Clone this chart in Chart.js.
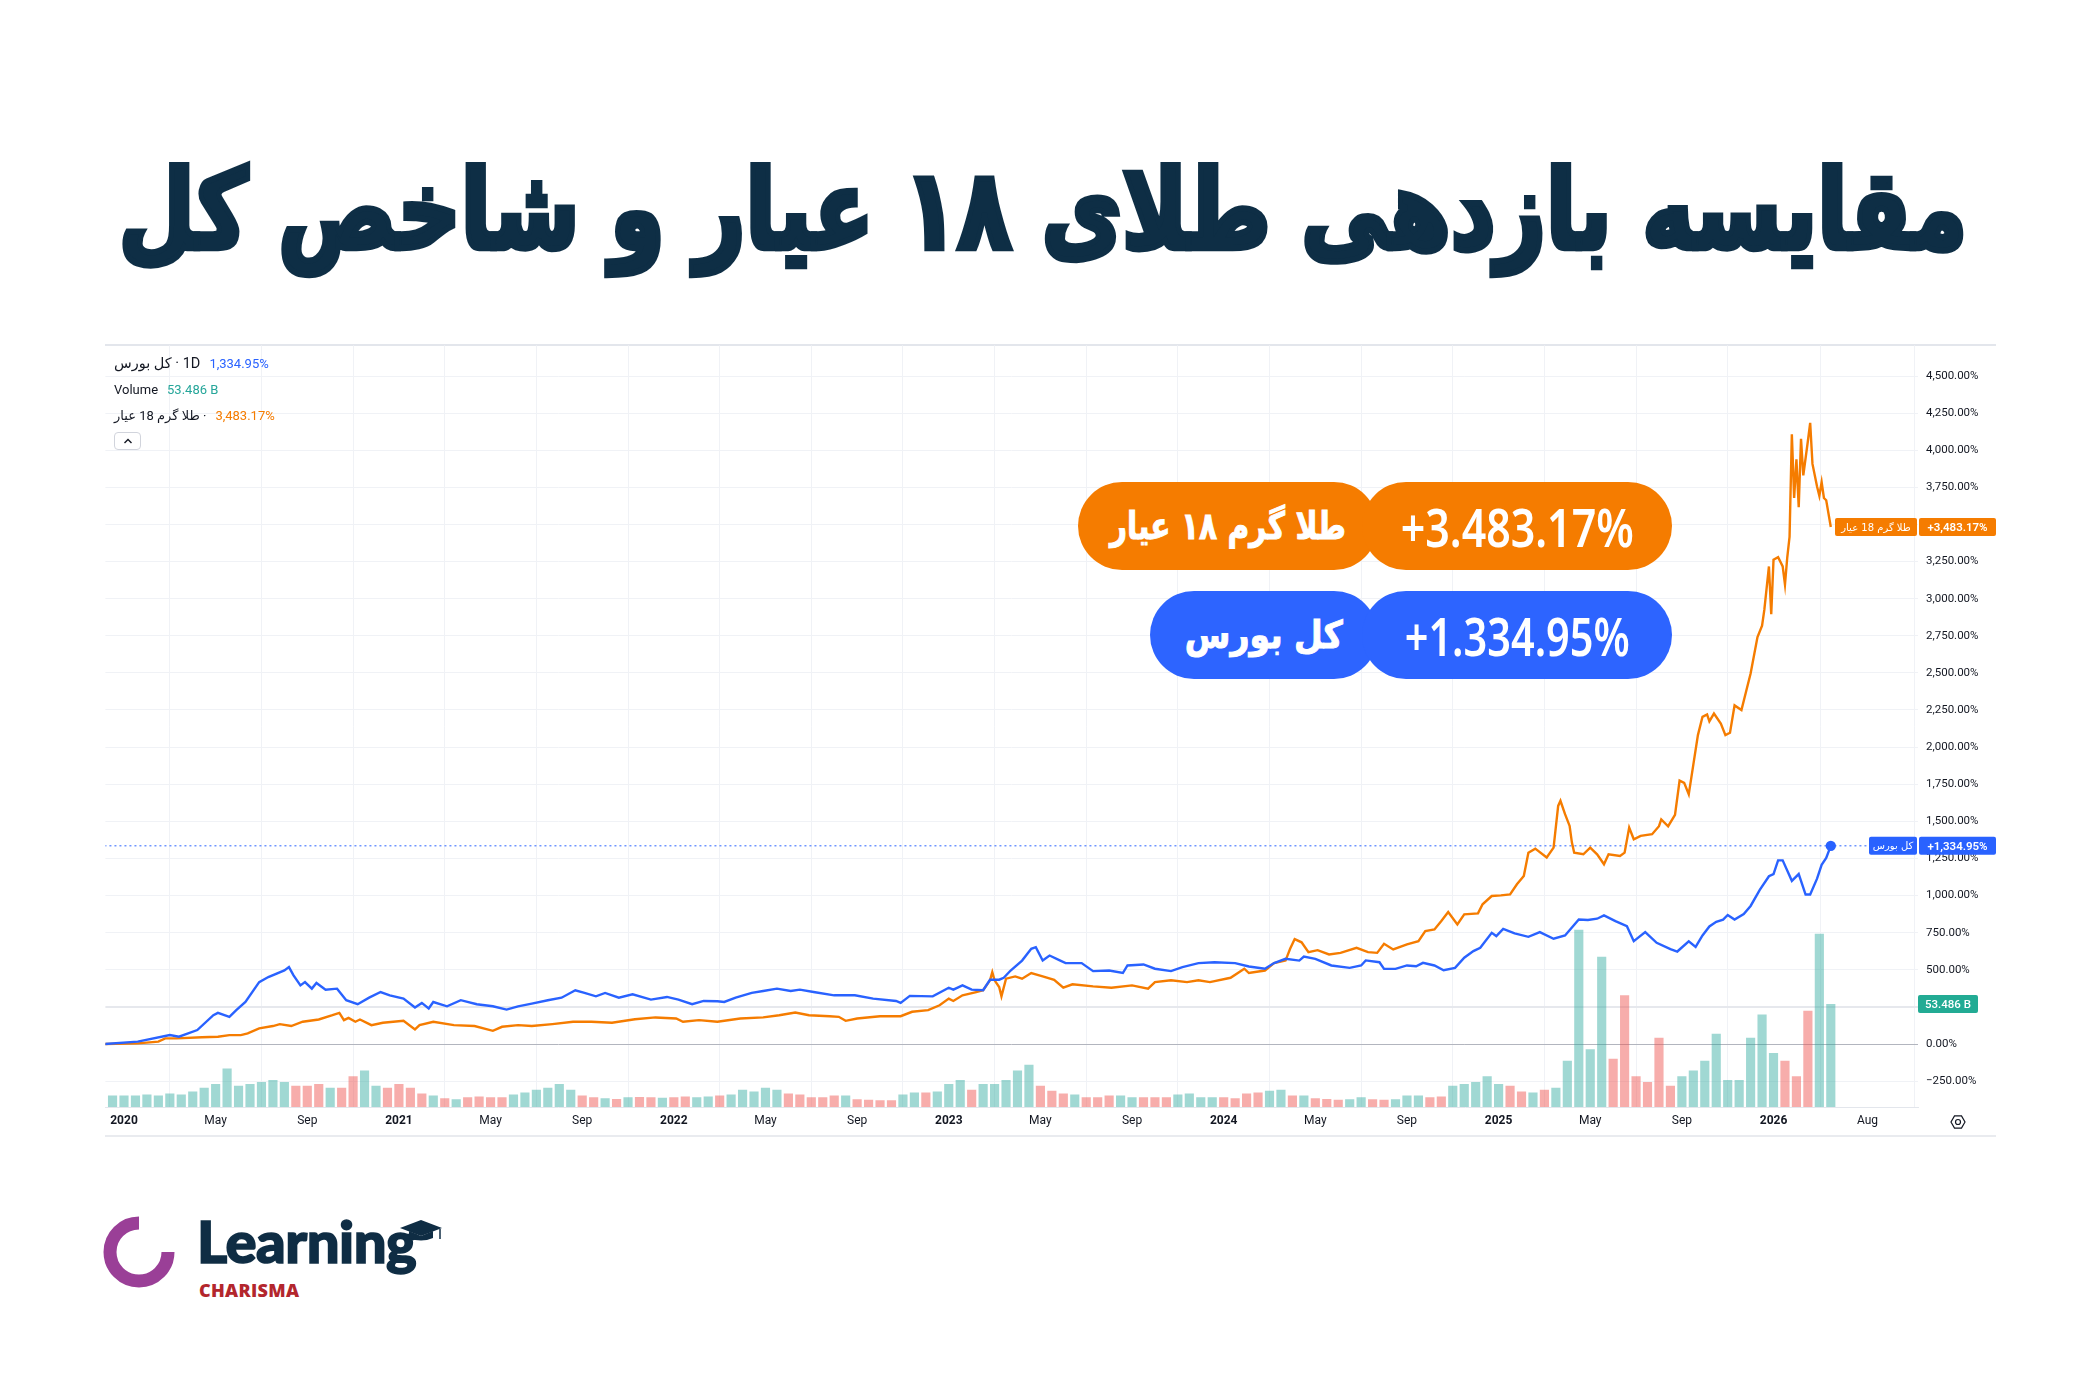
<!DOCTYPE html>
<html lang="fa">
<head>
<meta charset="UTF-8">
<title>مقایسه بازدهی طلای ۱۸ عیار و شاخص کل</title>
<script src="https://cdn.jsdelivr.net/npm/chart.js"></script>
<style>
    html, body { margin: 0; padding: 0; background: #fff; }
    body { width: 2086px; height: 1390px; position: relative; overflow: hidden; font-family: Roboto, "DejaVu Sans", sans-serif; color: #131722; }

    #title { position: absolute; left: 0; top: 155px; width: 2086px; text-align: center; white-space: nowrap; line-height: 1.3; }
    #titleText { direction: rtl; font-family: "DejaVu Sans", sans-serif; font-weight: bold; color: #0e2e45; font-size: 130px; -webkit-text-stroke: 5px #0e2e45; display: inline-block; transform: scaleY(1.25); transform-origin: 50% 50%; }

    .frame-top { position: absolute; left: 105px; top: 344px; width: 1891px; height: 2px; background: #e3e6ec; }
    .frame-bottom { position: absolute; left: 105px; top: 1135px; width: 1891px; height: 2px; background: #e9ebef; }
    .chart-box { position: absolute; left: 105px; top: 345px; width: 1891px; height: 790px; }

    .legend { position: absolute; left: 114px; font-size: 13px; line-height: 18px; white-space: nowrap; direction: ltr; }
    .legend .val { font-size: 13px; margin-left: 9px; }
    .collapse { position: absolute; left: 114px; top: 432px; width: 27px; height: 18px; border: 1px solid #d1d4dc; border-radius: 4px; box-sizing: border-box; background: #fff; }
    .collapse svg { position: absolute; left: 8px; top: 4px; }

    .pill { position: absolute; height: 88px; border-radius: 44px; color: #fff; display: flex; align-items: center; justify-content: center; white-space: nowrap; }
    .pill span { display: inline-block; transform-origin: 50% 50%; }
    .pill.name span { font-family: "DejaVu Sans", sans-serif; font-weight: bold; font-size: 38px; direction: rtl; -webkit-text-stroke: 1px #fff; }
    .pill.value span { font-family: "Noto Sans", sans-serif; font-weight: 600; font-size: 52px; direction: ltr; }
    .orange { background: #f57c00; }
    .blue { background: #2d64ff; }

    .logo-word { position: absolute; left: 197px; top: 1206px; font-family: Lato, "Noto Sans", sans-serif; font-weight: 900; font-size: 58px; color: #0f2d44; letter-spacing: -0.5px; -webkit-text-stroke: 1.6px #0f2d44; }
    .logo-sub { position: absolute; left: 199px; top: 1278px; font-family: "Open Sans", sans-serif; font-weight: 800; font-size: 18px; color: #b3262d; letter-spacing: 0.3px; }
</style>
</head>
<body>
    <div id="title"><span id="titleText">مقایسه بازدهی طلای ۱۸ عیار و شاخص کل</span></div>

    <div class="frame-top"></div>
    <div class="chart-box" id="chartBox"><canvas id="chart" width="1891" height="790"></canvas></div>
    <div class="frame-bottom"></div>

    <!-- legend, top left of the pane -->
    <div class="legend" style="top:355px; font-size:14.5px"><bdi>کل بورس</bdi> · 1D<span class="val" style="color:#2962ff">1,334.95%</span></div>
    <div class="legend" style="top:381px">Volume<span class="val" style="color:#26a69a">53.486 B</span></div>
    <div class="legend" style="top:407px"><bdi>طلا گرم 18 عیار</bdi> ·<span class="val" style="color:#f57c00">3,483.17%</span></div>
    <div class="collapse"><svg width="10" height="8" viewBox="0 0 10 8"><path d="M1.5 6 L5 2.5 L8.5 6" fill="none" stroke="#131722" stroke-width="1.4"/></svg></div>

    <!-- return badges -->
    <div class="pill orange name" style="left:1078px; top:482px; width:300px;"><span data-w="236">طلا گرم ۱۸ عیار</span></div>
    <div class="pill orange value" style="left:1362px; top:482px; width:310px;"><span data-w="233">+3.483.17%</span></div>
    <div class="pill blue name" style="left:1150px; top:591px; width:228px;"><span data-w="158">کل بورس</span></div>
    <div class="pill blue value" style="left:1362px; top:591px; width:310px;"><span data-w="225">+1.334.95%</span></div>

    <!-- logo -->
    <svg style="position:absolute; left:100px; top:1212px" width="80" height="80" viewBox="0 0 80 80">
        <path d="M39 11 A29 29 0 1 0 68 40" fill="none" stroke="#9a3f97" stroke-width="13"/>
    </svg>
    <div class="logo-word">Learning</div>
    <svg style="position:absolute; left:398px; top:1218px" width="46" height="26" viewBox="0 0 46 26">
        <polygon points="23,2 44,10 23,18 2,10" fill="#0f2d44"/>
        <path d="M11 13 L11 20 Q23 25 35 20 L35 13 L23 18 Z" fill="#0f2d44"/>
        <line x1="42" y1="11" x2="42" y2="21" stroke="#0f2d44" stroke-width="1.5"/>
    </svg>
    <div class="logo-sub">CHARISMA</div>

<script>
// ---- data (x in months since Jan 2020, y in % return) ----
const blueMonths = [-0.83, 0.6, 2.0, 2.4, 3.2, 3.9, 4.1, 4.6, 4.9, 5.3, 5.9, 6.3, 7.0, 7.2, 7.4, 7.7, 7.9, 8.2, 8.4, 8.8,
    9.3, 9.7, 10.2, 10.7, 11.2, 11.6, 12.2, 12.7, 13.0, 13.3, 13.5, 14.1, 14.7, 15.4, 16.1, 16.7, 17.2, 17.8, 18.5, 19.1,
    19.7, 20.1, 20.6, 21.0, 21.6, 22.2, 23.0, 23.7, 24.2, 24.8, 25.3, 25.9, 26.2, 26.7, 27.4, 27.9, 28.5, 29.1, 29.5, 30.1,
    31.0, 31.9, 32.7, 33.7, 33.9, 34.3, 35.3, 36.0, 36.2, 36.6, 37.0, 37.5, 37.8, 38.2, 38.4, 38.7, 39.2, 39.6, 39.8, 40.1,
    40.4, 40.8, 41.1, 41.8, 42.3, 43.0, 43.6, 43.8, 44.5, 45.0, 45.7, 46.2, 46.9, 47.6, 48.5, 49.1, 49.8, 50.2, 50.7, 51.3,
    51.5, 52.0, 52.7, 53.5, 54.0, 54.2, 54.8, 55.0, 55.5, 56.0, 56.4, 56.7, 57.2, 57.6, 58.1, 58.5, 58.9, 59.2, 59.7, 59.9,
    60.2, 60.7, 61.3, 61.8, 62.4, 62.9, 63.5, 63.9, 64.3, 64.6, 65.1, 65.6, 65.9, 66.4, 66.9, 67.5, 67.8, 68.3, 68.6, 68.9,
    69.2, 69.5, 69.8, 70.0, 70.3, 70.7, 71.0, 71.4, 71.8, 72.0, 72.2, 72.4, 72.8, 73.1, 73.4, 73.6, 73.9, 74.1, 74.3, 74.5];
const blueValues = [0, 16, 60, 49, 94, 194, 210, 183, 228, 283, 417, 451, 496, 518, 462, 395, 417, 373, 411, 366,
    373, 295, 268, 312, 350, 328, 306, 246, 277, 239, 283, 254, 295, 268, 254, 232, 254, 272, 295, 312,
    362, 344, 321, 344, 312, 335, 299, 317, 299, 268, 290, 288, 283, 312, 344, 357, 373, 357, 366, 350,
    328, 328, 306, 290, 277, 324, 321, 379, 366, 395, 366, 362, 433, 433, 446, 495, 562, 641, 652, 562,
    596, 567, 545, 545, 491, 495, 478, 529, 536, 507, 491, 518, 545, 551, 545, 522, 507, 545, 574, 562,
    589, 574, 529, 513, 529, 563, 551, 506, 506, 529, 524, 547, 529, 497, 513, 581, 626, 648, 749, 727,
    776, 745, 722, 754, 709, 731, 839, 835, 844, 866, 828, 794, 693, 754, 682, 639, 623, 691, 654, 731,
    792, 823, 838, 869, 838, 875, 930, 1038, 1130, 1145, 1237, 1237, 1099, 1145, 1007, 1007, 1114, 1207, 1253, 1334.95];

const goldMonths = [-0.83, 0.6, 1.5, 1.8, 2.3, 3.4, 4.1, 4.6, 5.1, 5.4, 5.9, 6.5, 6.8, 7.3, 7.8, 8.5, 9.1, 9.4, 9.6, 9.8,
    10.1, 10.3, 10.8, 11.3, 12.2, 12.7, 12.9, 13.5, 14.4, 15.3, 16.1, 16.5, 17.2, 17.8, 18.7, 19.6, 20.4, 21.3, 22.3, 23.2,
    24.1, 24.4, 25.1, 25.9, 26.9, 27.9, 28.6, 29.3, 29.9, 30.8, 31.2, 31.5, 32.0, 33.0, 33.9, 34.4, 35.1, 35.6, 36.0, 36.2,
    36.6, 37.2, 37.5, 37.8, 37.9, 38.0, 38.2, 38.3, 38.5, 38.9, 39.2, 39.6, 40.1, 40.6, 41.0, 41.4, 42.3, 43.1, 44.0, 44.7,
    45.0, 45.7, 46.4, 46.9, 47.4, 48.3, 48.9, 49.1, 49.8, 50.2, 50.7, 50.9, 51.1, 51.4, 51.7, 52.1, 52.6, 53.1, 53.8, 54.3,
    54.7, 55.0, 55.4, 56.0, 56.5, 56.8, 57.2, 57.5, 57.8, 58.2, 58.5, 59.1, 59.3, 59.7, 60.1, 60.5, 60.8, 61.1, 61.3, 61.6,
    62.1, 62.4, 62.6, 62.7, 62.9, 63.1, 63.2, 63.3, 63.7, 64.0, 64.3, 64.6, 64.8, 65.3, 65.5, 65.7, 65.9, 66.2, 66.7, 67.0,
    67.1, 67.4, 67.7, 67.9, 68.1, 68.3, 68.5, 68.7, 68.9, 69.1, 69.2, 69.4, 69.7, 69.9, 70.1, 70.3, 70.6, 70.8, 71.0, 71.3,
    71.5, 71.6, 71.8, 71.9, 72.0, 72.2, 72.4, 72.5, 72.6, 72.7, 72.8, 72.9, 73.0, 73.1, 73.2, 73.3, 73.5, 73.6, 73.7, 73.9,
    74.0, 74.1, 74.2, 74.3, 74.5];
const goldValues = [0, 4, 16, 38, 38, 45, 49, 60, 60, 71, 105, 121, 134, 121, 150, 165, 194, 210, 161, 176,
    150, 165, 127, 143, 156, 98, 127, 150, 127, 121, 89, 116, 127, 121, 134, 150, 150, 143, 167, 179,
    172, 150, 161, 150, 172, 179, 194, 212, 194, 187, 183, 156, 172, 187, 187, 217, 228, 261, 306, 290,
    328, 350, 362, 429, 484, 429, 384, 321, 440, 455, 440, 478, 455, 433, 379, 402, 388, 379, 395, 373,
    417, 429, 417, 429, 417, 446, 507, 478, 495, 545, 562, 641, 707, 685, 618, 632, 603, 614, 648, 619,
    614, 675, 637, 671, 693, 761, 772, 828, 889, 806, 873, 880, 941, 997, 1001, 1008, 1076, 1132, 1289, 1316,
    1256, 1323, 1604, 1638, 1548, 1469, 1357, 1289, 1278, 1323, 1278, 1211, 1278, 1267, 1289, 1458, 1379, 1402, 1413, 1467,
    1513, 1467, 1544, 1774, 1759, 1682, 1882, 2081, 2204, 2220, 2174, 2226, 2158, 2081, 2097, 2281, 2250, 2373, 2496, 2741,
    2818, 2926, 3217, 2895, 3263, 3279, 3217, 3095, 3279, 3417, 4108, 3678, 3939, 3616, 4077, 3831, 4062, 4184, 3908, 3755,
    3693, 3785, 3678, 3663, 3483.17];

// volume of کل بورس, billions, one bar per half month starting at month -0.5
const volumeStart = -0.5;
const volumeStep = 0.5;
const volumeValues = [6, 6, 6, 6.5, 6, 7, 6.5, 8, 10, 12,
    20, 11, 12, 13, 14, 13, 11, 11, 12, 10,
    10, 16, 19, 11, 10, 12, 10, 7, 6, 4.5,
    4, 5, 5.5, 5, 5, 6.5, 7.5, 9, 10, 12,
    9, 6, 5, 4.5, 4.2, 5, 5.2, 5, 4.8, 5,
    5.5, 5, 5.5, 6, 6.5, 9, 8, 10, 9, 7,
    6.5, 5, 5, 6, 6, 4, 3.8, 3.5, 3.5, 6.5,
    7.5, 7.5, 8, 12, 14, 9, 12, 12, 14, 19,
    22, 11, 8.5, 7, 6.5, 5, 5, 6, 6, 5,
    5, 5, 5, 6.5, 7, 5, 5, 5, 4.5, 7,
    7.5, 8.5, 9, 6, 6, 4.5, 4.2, 3.8, 4, 5,
    4, 3.8, 4, 6, 6, 5, 5.5, 11, 12, 13,
    16, 12, 11, 8, 7.5, 9, 10, 24, 92, 30,
    78, 25, 58, 16, 13, 36, 11, 16, 19, 24,
    38, 14, 14, 36, 48, 28, 24, 16, 50, 90,
    53.486];

const xTickMonths = [0, 4, 8, 12, 16, 20, 24, 28, 32, 36, 40, 44, 48, 52, 56, 60, 64, 68, 72, 76.1];
const xTickLabels = ['2020', 'May', 'Sep', '2021', 'May', 'Sep', '2022', 'May', 'Sep', '2023', 'May', 'Sep',
    '2024', 'May', 'Sep', '2025', 'May', 'Sep', '2026', 'Aug'];
const yTickValues = [-250, 0, 250, 500, 750, 1000, 1250, 1500, 1750, 2000, 2250, 2500, 2750,
    3000, 3250, 3500, 3750, 4000, 4250, 4500];

const BLUE = '#2962ff';
const ORANGE = '#f57c00';

// fit the big title to its width in the reference
const titleEl = document.getElementById('titleText');
const tw = titleEl.getBoundingClientRect().width;
titleEl.style.fontSize = (130 * 1849 / tw) + 'px';

// squeeze the badge texts to the widths they have in the picture
document.querySelectorAll('.pill span').forEach(s => {
    const w = s.getBoundingClientRect().width;
    s.style.transform = 'scaleX(' + (Number(s.dataset.w) / w) + ')';
});

function pct(v) {
    const s = Math.abs(v).toLocaleString('en-US', { minimumFractionDigits: 2, maximumFractionDigits: 2 }) + '%';
    return v < 0 ? '\u2212' + s : s;
}

// blue level at a month, only used to pick the colour of a volume bar
function blueAt(m) {
    for (let i = 1; i < blueMonths.length; i++) {
        if (blueMonths[i] >= m) {
            const t = (m - blueMonths[i - 1]) / (blueMonths[i] - blueMonths[i - 1]);
            return blueValues[i - 1] + t * (blueValues[i] - blueValues[i - 1]);
        }
    }
    return blueValues[blueValues.length - 1];
}

const volumePoints = volumeValues.map((v, i) => ({ x: volumeStart + i * volumeStep, y: v }));
const volumeColors = volumePoints.map(p =>
    blueAt(p.x + volumeStep / 2) >= blueAt(p.x - volumeStep / 2) ? 'rgba(38,166,154,0.44)' : 'rgba(239,83,80,0.48)');

const lastBlue = blueValues[blueValues.length - 1];
const lastGold = goldValues[goldValues.length - 1];
const lastVolume = volumeValues[volumeValues.length - 1];

// price tags on the right axis and the settings glyph
const priceTags = {
    id: 'priceTags',
    afterDraw(chart) {
        const { ctx, chartArea, scales } = chart;
        const r = chartArea.right;
        ctx.save();
        function tag(x, w, yc, bg, txt, font, dir) {
            ctx.fillStyle = bg;
            ctx.beginPath();
            ctx.roundRect(x, yc - 9, w, 18, 2);
            ctx.fill();
            ctx.fillStyle = '#fff';
            ctx.font = font;
            ctx.direction = dir;
            ctx.textAlign = 'center';
            ctx.textBaseline = 'middle';
            ctx.fillText(txt, x + w / 2, yc + 1);
        }
        const yg = scales.y.getPixelForValue(lastGold);
        tag(r - 83, 82, yg, ORANGE, 'طلا گرم 18 عیار', '10px "DejaVu Sans"', 'rtl');
        tag(r + 1, 77, yg, ORANGE, '+' + pct(lastGold), '600 11.5px Roboto', 'ltr');
        const yb = scales.y.getPixelForValue(lastBlue);
        tag(r - 49, 48, yb, BLUE, 'کل بورس', '10px "DejaVu Sans"', 'rtl');
        tag(r + 1, 77, yb, BLUE, '+' + pct(lastBlue), '600 11.5px Roboto', 'ltr');
        const yv = scales.yVol.getPixelForValue(lastVolume);
        tag(r, 60, yv, '#22ab94', lastVolume.toFixed(3) + ' B', '500 11.5px Roboto', 'ltr');

        // settings glyph in the corner
        const cx = r + 40, cy = chartArea.bottom + 15;
        ctx.strokeStyle = '#131722';
        ctx.lineWidth = 1.2;
        ctx.beginPath();
        for (let k = 0; k < 6; k++) {
            const a = Math.PI / 3 * k;
            const px = cx + 7 * Math.cos(a), py = cy + 7 * Math.sin(a);
            k ? ctx.lineTo(px, py) : ctx.moveTo(px, py);
        }
        ctx.closePath();
        ctx.stroke();
        ctx.beginPath();
        ctx.arc(cx, cy, 2.5, 0, Math.PI * 2);
        ctx.stroke();
        ctx.restore();
    }
};

const ctx = document.getElementById('chart').getContext('2d');
const chart = new Chart(ctx, {
    type: 'line',
    data: {
        datasets: [
            {
                type: 'bar',
                label: 'Volume',
                data: volumePoints,
                yAxisID: 'yVol',
                backgroundColor: volumeColors,
                barPercentage: 1,
                categoryPercentage: 0.8,
                order: 5
            },
            {
                label: 'price line',
                data: [{ x: -5, y: lastBlue }, { x: 90, y: lastBlue }],
                borderColor: BLUE,
                borderWidth: 1,
                borderDash: [2, 3],
                pointRadius: 0,
                order: 4
            },
            {
                label: 'طلا گرم 18 عیار',
                data: goldMonths.map((m, i) => ({ x: m, y: goldValues[i] })),
                borderColor: ORANGE,
                borderWidth: 2.4,
                pointRadius: 0,
                tension: 0,
                order: 2
            },
            {
                label: 'کل بورس',
                data: blueMonths.map((m, i) => ({ x: m, y: blueValues[i] })),
                borderColor: BLUE,
                backgroundColor: BLUE,
                borderWidth: 2.4,
                pointRadius: c => c.dataIndex === blueValues.length - 1 ? 4 : 0,
                tension: 0,
                order: 1
            }
        ]
    },
    options: {
        responsive: false,
        maintainAspectRatio: false,
        animation: false,
        layout: { padding: 0 },
        plugins: { legend: { display: false }, tooltip: { enabled: false } },
        scales: {
            x: {
                type: 'linear',
                min: -0.83,
                max: 78.3,
                offset: false,
                afterBuildTicks: s => { s.ticks = xTickMonths.map(v => ({ value: v })); },
                afterFit: s => { s.height = 29; s.paddingLeft = 0; s.paddingRight = 0; },
                ticks: {
                    autoSkip: false,
                    maxRotation: 0,
                    padding: 7,
                    color: '#131722',
                    callback: (v, i) => xTickLabels[i],
                    font: c => ({ family: 'Roboto', size: 12, weight: /^\d{4}$/.test(xTickLabels[c.index] || '') ? 'bold' : 'normal' })
                },
                grid: { color: '#f0f2f6', drawTicks: false },
                border: { display: true, color: '#e3e6ec', width: 1 }
            },
            y: {
                position: 'right',
                min: -424.4,
                max: 4709,
                afterBuildTicks: s => { s.ticks = yTickValues.map(v => ({ value: v })); },
                afterFit: s => { s.width = 78; s.paddingTop = 0; s.paddingBottom = 0; },
                ticks: {
                    padding: 8,
                    color: '#131722',
                    font: { family: 'Roboto', size: 11.5 },
                    callback: v => pct(v)
                },
                grid: {
                    drawTicks: false,
                    color: c => c.tick && c.tick.value === 0 ? '#b2b5be' : (c.tick && c.tick.value === 250 ? '#e6e8ed' : '#f0f2f6'),
                    lineWidth: c => c.tick && c.tick.value === 250 ? 2 : 1
                },
                border: { display: false }
            },
            yVol: {
                display: false,
                min: 0,
                max: 395.7
            }
        }
    },
    plugins: [priceTags]
});

// line the plot area up with the pane in the picture (105..1918 across, 345..1107 down),
// then pin the scales to the picture's calibration:
// 0% at 1044px, 668px per 4500%; Jan 2020 at 124px, 22.91px per month
(function alignChart() {
    const box = document.getElementById('chartBox');
    let L = 105, T = 345, W = 1891, H = 790;
    for (let k = 0; k < 4; k++) {
        const ca = chart.chartArea;
        const dL = 105 - (L + ca.left), dT = 345 - (T + ca.top);
        const dR = 1918 - (L + ca.right), dB = 1107 - (T + ca.bottom);
        if (Math.abs(dL) < 0.5 && Math.abs(dT) < 0.5 && Math.abs(dR) < 0.5 && Math.abs(dB) < 0.5) break;
        L = Math.round(L + dL);
        T = Math.round(T + dT);
        W = Math.round(W + dR - dL);
        H = Math.round(H + dB - dT);
        box.style.left = L + 'px';
        box.style.top = T + 'px';
        box.style.width = W + 'px';
        box.style.height = H + 'px';
        chart.resize(W, H);
    }
    const ca = chart.chartArea;
    const kY = 668 / 4500, zeroY = 1044 - T;
    const kX = 22.91, zeroX = 124 - L;
    const o = chart.options.scales;
    o.y.min = -(ca.bottom - zeroY) / kY;
    o.y.max = (zeroY - ca.top) / kY;
    o.x.min = -(zeroX - ca.left) / kX;
    o.x.max = (ca.right - zeroX) / kX;
    o.yVol.max = (ca.bottom - ca.top) * 53.486 / 103;
    chart.update();
})();
</script>
</body>
</html>
